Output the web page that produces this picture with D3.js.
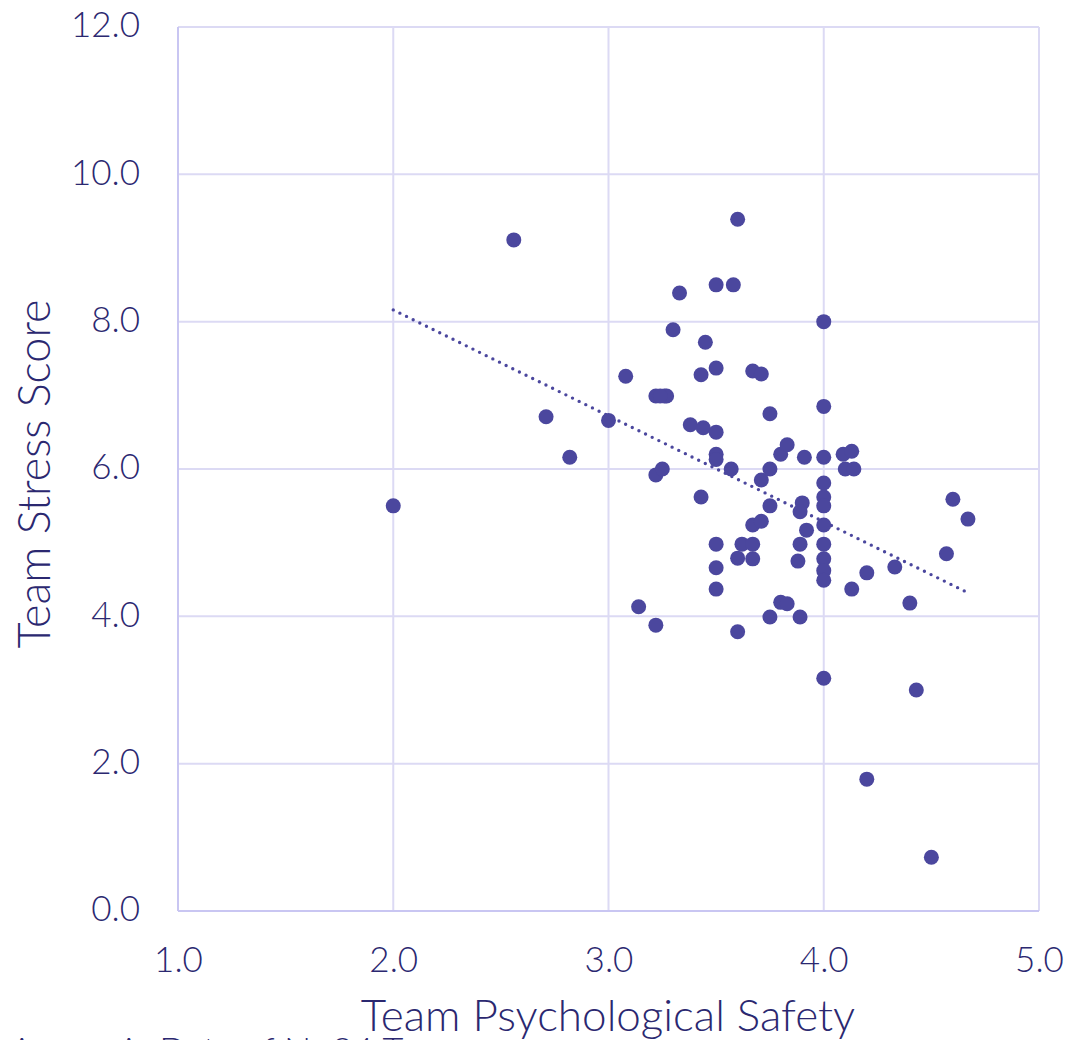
<!DOCTYPE html>
<html>
<head>
<meta charset="utf-8">
<script src="https://cdn.jsdelivr.net/npm/d3@7"></script>
<style>
  body { margin: 0; background: #fff; overflow: hidden; }
  text { font-family: "Lato", "Open Sans", sans-serif; font-weight: 300; fill: #2b2870; }
</style>
</head>
<body>
<svg id="mysvg" width="1071" height="1040"></svg>
<script>
// psychological safety (x) and stress score (y) for each team
let safety = [2.00, 2.56, 2.71, 2.82, 3.00, 3.08, 3.14, 3.22, 3.26, 3.27,
              3.22, 3.25, 3.22, 3.30, 3.33, 3.38, 3.43, 3.45, 3.44, 3.43,
              3.50, 3.50, 3.50, 3.50, 3.50, 3.50, 3.50, 3.50, 3.58, 3.60,
              3.57, 3.60, 3.60, 3.62, 3.67, 3.67, 3.67, 3.71, 3.67, 3.71,
              3.71, 3.75, 3.75, 3.75, 3.75, 3.80, 3.83, 3.80, 3.83, 3.89,
              3.88, 3.89, 3.91, 3.90, 3.89, 3.92, 4.00, 4.00, 4.00, 4.00,
              4.00, 4.00, 4.00, 4.00, 4.00, 4.00, 4.00, 4.00, 4.09, 4.13,
              4.10, 4.14, 4.13, 4.20, 4.20, 4.33, 4.40, 4.43, 4.50, 4.57,
              4.60, 4.67, 3.24];
let stress = [5.50, 9.11, 6.71, 6.16, 6.66, 7.26, 4.13, 6.99, 6.99, 6.99,
              5.92, 6.00, 3.88, 7.89, 8.39, 6.60, 7.28, 7.72, 6.56, 5.62,
              8.50, 7.37, 6.50, 6.20, 6.13, 4.98, 4.66, 4.37, 8.50, 9.39,
              6.00, 4.79, 3.79, 4.98, 4.98, 4.78, 5.24, 5.29, 7.33, 7.29,
              5.85, 6.75, 6.00, 5.50, 3.99, 6.20, 6.33, 4.19, 4.17, 4.98,
              4.75, 3.99, 6.16, 5.54, 5.42, 5.17, 8.00, 6.85, 6.16, 5.81,
              5.62, 5.50, 5.24, 4.98, 4.78, 4.62, 4.49, 3.16, 6.20, 6.24,
              6.00, 6.00, 4.37, 4.59, 1.79, 4.67, 4.18, 3.00, 0.73, 4.85,
              5.59, 5.32, 6.99];

// linear trendline end points as drawn
let trendX = [2.00, 4.67];
let trendY = [8.16, 4.32];

let xTicks = [1, 2, 3, 4, 5];
let yTicks = [0, 2, 4, 6, 8, 10, 12];

let xTitle = "Team Psychological Safety";
let yTitle = "Team Stress Score";
let caption = "Annex A: Data of N=84 Teams";

let svg = d3.select('#mysvg');

let plotLeft = 178, plotRight = 1039, plotTop = 27, plotBottom = 911;

let x = d3.scaleLinear().domain([1, 5]).range([plotLeft, plotRight]);
let y = d3.scaleLinear().domain([0, 12]).range([plotBottom, plotTop]);

// grid lines
svg.append("g").selectAll("line")
    .data(yTicks)
    .enter().append("line")
    .attr("x1", plotLeft).attr("x2", plotRight)
    .attr("y1", d => y(d)).attr("y2", d => y(d))
    .attr("stroke", "#dcdaf4").attr("stroke-width", 2);

svg.append("g").selectAll("line")
    .data(xTicks)
    .enter().append("line")
    .attr("x1", d => x(d)).attr("x2", d => x(d))
    .attr("y1", plotTop).attr("y2", plotBottom)
    .attr("stroke", d => d == 1 ? "#c9c6f2" : "#dcdaf4").attr("stroke-width", 2);

// bottom axis line
svg.append("line")
    .attr("x1", plotLeft).attr("x2", plotRight)
    .attr("y1", plotBottom).attr("y2", plotBottom)
    .attr("stroke", "#c9c6f2").attr("stroke-width", 2);

// y tick labels
let yAxis = d3.axisLeft(y).tickValues(yTicks).tickFormat(d3.format(".1f")).tickSize(0).tickPadding(38);
let gy = svg.append("g").attr("transform", "translate(" + plotLeft + ",0)").call(yAxis);
gy.select(".domain").remove();
gy.selectAll("text").attr("font-size", 35).attr("fill", "#2b2870").attr("dy", "0.28em");
gy.attr("font-family", null).attr("font-size", null);

// x tick labels
let xAxis = d3.axisBottom(x).tickValues(xTicks).tickFormat(d3.format(".1f")).tickSize(0).tickPadding(36);
let gx = svg.append("g").attr("transform", "translate(0," + plotBottom + ")").call(xAxis);
gx.select(".domain").remove();
gx.selectAll("text").attr("font-size", 35).attr("fill", "#2b2870");
gx.attr("font-family", null).attr("font-size", null);

// dotted trendline
svg.append("path")
    .datum(d3.zip(trendX, trendY))
    .attr("d", d3.line().x(d => x(d[0])).y(d => y(d[1])))
    .attr("fill", "none")
    .attr("stroke", "#4b479e")
    .attr("stroke-width", 3.4)
    .attr("stroke-linecap", "round")
    .attr("stroke-dasharray", "0 7.4");

// points
svg.append("g").selectAll("circle")
    .data(d3.zip(safety, stress))
    .enter().append("circle")
    .attr("cx", d => x(d[0]))
    .attr("cy", d => y(d[1]))
    .attr("r", 7.5)
    .attr("fill", "#4b479e");

// axis titles
svg.append("text")
    .attr("x", 608)
    .attr("y", 1031)
    .attr("text-anchor", "middle")
    .attr("font-size", 44)
    .text(xTitle);

svg.append("text")
    .attr("transform", "translate(50,474) rotate(-90)")
    .attr("text-anchor", "middle")
    .attr("font-size", 45)
    .text(yTitle);

// figure caption, mostly below the visible area
svg.append("text")
    .attr("x", 10)
    .attr("y", 1063)
    .attr("font-size", 36)
    .text(caption);
</script>
</body>
</html>
